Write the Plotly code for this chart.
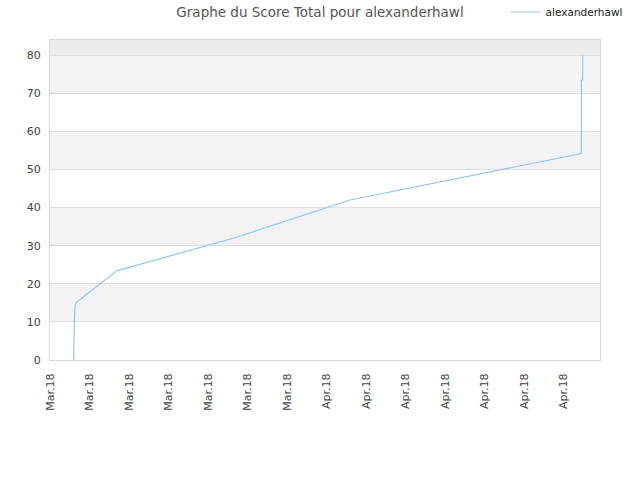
import pandas as pd
import plotly.graph_objects as go

# score history
dates = ["2018-03-03 16:00", "2018-03-03 16:10", "2018-03-03 17:40", "2018-03-03 19:30",
         "2018-03-03 22:15", "2018-03-08 12:20", "2018-03-21 20:10", "2018-04-03 19:10",
         "2018-04-29 20:40", "2018-04-29 20:50", "2018-04-30 00:05", "2018-04-30 00:15"]
scores = [0, 5.2, 9.5, 14.2, 15.0, 23.4, 32.1, 42.0, 54.2, 73.5, 73.5, 80]

tick_dates = pd.date_range("2018-03-01", periods=14, freq="4.45D")
tick_labels = ["Mar.18"] * 7 + ["Apr.18"] * 7

player = "alexanderhawl"

fig = go.Figure()
fig.add_trace(go.Scatter(x=pd.to_datetime(dates), y=scores, mode="lines", name=player,
                         line=dict(color="#94c4f4", width=1.2)))

# alternating horizontal bands
bands = [(10, 20), (30, 40), (50, 60), (70, 80)]
for lo, hi in bands:
    fig.add_shape(type="rect", xref="paper", yref="y", x0=0, x1=1, y0=lo, y1=hi,
                  fillcolor="#f3f3f3", line_width=0, layer="below")
fig.add_shape(type="rect", xref="paper", yref="y", x0=0, x1=1, y0=80, y1=84,
              fillcolor="#ececec", line_width=0, layer="below")

fig.update_layout(
    width=640, height=480,
    margin=dict(l=50, r=40, t=40, b=120, autoexpand=False),
    paper_bgcolor="white", plot_bgcolor="white",
    font=dict(family="DejaVu Sans", size=11, color="#444"),
    title=dict(text="Graphe du Score Total pour " + player, x=0.5, xanchor="center",
               xref="container", yref="container",
               y=0.975, yanchor="middle", font=dict(size=13.5, color="#555")),
    showlegend=True,
    legend=dict(x=0.79, y=0.975, xref="container", yref="container",
                xanchor="left", yanchor="middle", bgcolor="rgba(0,0,0,0)",
                font=dict(size=10.5, color="#222")),
    xaxis=dict(range=[tick_dates[0], tick_dates[0] + pd.Timedelta(days=61.96)],
               tickvals=tick_dates, ticktext=tick_labels, tickangle=-90, automargin=False,
               ticklabelstandoff=8,
               showgrid=False, zeroline=False, showline=True, linecolor="#d8d8d8",
               mirror=True, ticks="", tickfont=dict(size=11, color="#444")),
    yaxis=dict(range=[0, 84], tickvals=list(range(0, 81, 10)), showgrid=True, automargin=False,
               ticklabelstandoff=6,
               gridcolor="#dedede", zeroline=False, showline=True, linecolor="#d8d8d8",
               mirror=True, ticks="", tickfont=dict(size=11, color="#444")),
)

# drop the default page margin so the figure sits at the window's corner
fig.write_html("out.html", config={"displayModeBar": False},
               post_script="document.body.style.margin = '0';")
